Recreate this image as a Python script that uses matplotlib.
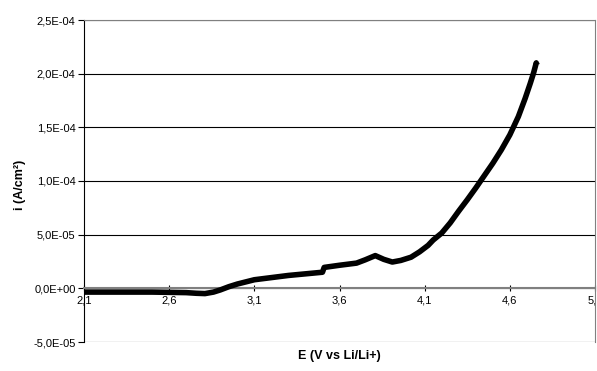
import matplotlib.pyplot as plt
from matplotlib.ticker import FuncFormatter

plt.rcParams['font.family'] = ['Liberation Sans', 'DejaVu Sans']

# Datos (E en V vs Li/Li+, i en A/cm2)
E = [2.10, 2.30, 2.50, 2.70, 2.76, 2.81, 2.86, 2.90, 2.95, 3.00, 3.05, 3.10,
     3.20, 3.30, 3.40, 3.50, 3.51, 3.60, 3.70, 3.75, 3.81, 3.86, 3.91, 3.96,
     4.02, 4.07, 4.12, 4.15, 4.20, 4.25, 4.30, 4.35, 4.40, 4.45, 4.50, 4.55,
     4.60, 4.65, 4.69, 4.72, 4.74, 4.755]
i_uA = [-3.5, -3.5, -3.5, -4.0, -4.6, -4.9, -3.5, -1.5, 1.5, 4.0, 6.0, 8.0,
        10.0, 12.0, 13.5, 15.0, 19.5, 21.5, 23.5, 26.5, 30.5, 27.0, 24.5, 26.0,
        29.0, 34.0, 40.0, 45.0, 51.5, 61.0, 72.0, 82.5, 93.5, 105.0, 116.5, 129.0,
        143.0, 160.0, 177.0, 191.0, 201.0, 210.0]
corriente = [v * 1e-6 for v in i_uA]

x_ticks = [2.1, 2.6, 3.1, 3.6, 4.1, 4.6, 5.1]
y_ticks = [-5e-5, 0, 5e-5, 1e-4, 1.5e-4, 2e-4, 2.5e-4]

fig = plt.figure(figsize=(5.97, 3.71), dpi=100)
ax = fig.add_axes([84 / 597, 29 / 371, 511 / 597, 322 / 371])

ax.plot(E, corriente, color='black', lw=4, solid_capstyle='round',
        solid_joinstyle='round', zorder=3)
ax.plot(E[-1], corriente[-1], marker='+', color='black', ms=4, mew=1, zorder=4)

ax.set_xlim(2.1, 5.1)
ax.set_ylim(-5e-5, 2.5e-4)
ax.set_xticks(x_ticks)
ax.set_yticks(y_ticks)
ax.xaxis.set_major_formatter(FuncFormatter(lambda v, p: f"{v:.1f}".replace('.', ',')))
ax.yaxis.set_major_formatter(FuncFormatter(lambda v, p: f"{v:.1E}".replace('.', ',')))

ax.grid(axis='y', color='black', lw=0.8)
ax.set_axisbelow(True)

for s in ['top', 'right']:
    ax.spines[s].set_color('#808080')
ax.spines['bottom'].set_position(('data', 0))
ax.spines['bottom'].set_color('#808080')
ax.spines['bottom'].set_linewidth(1.5)
ax.spines['left'].set_color('black')

ax.tick_params(axis='x', direction='inout', length=5, labelsize=8, pad=3, colors='black')
ax.tick_params(axis='y', direction='out', length=4, labelsize=8, pad=2)

fig.text(20 / 597, 1 - 185 / 371, 'i (A/cm²)', rotation=90, ha='center', va='center',
         fontsize=9, fontweight='bold')
fig.text(339 / 597, 1 - 356 / 371, 'E (V vs Li/Li+)', ha='center', va='center',
         fontsize=9, fontweight='bold')

fig.savefig('out.png', dpi=100)
